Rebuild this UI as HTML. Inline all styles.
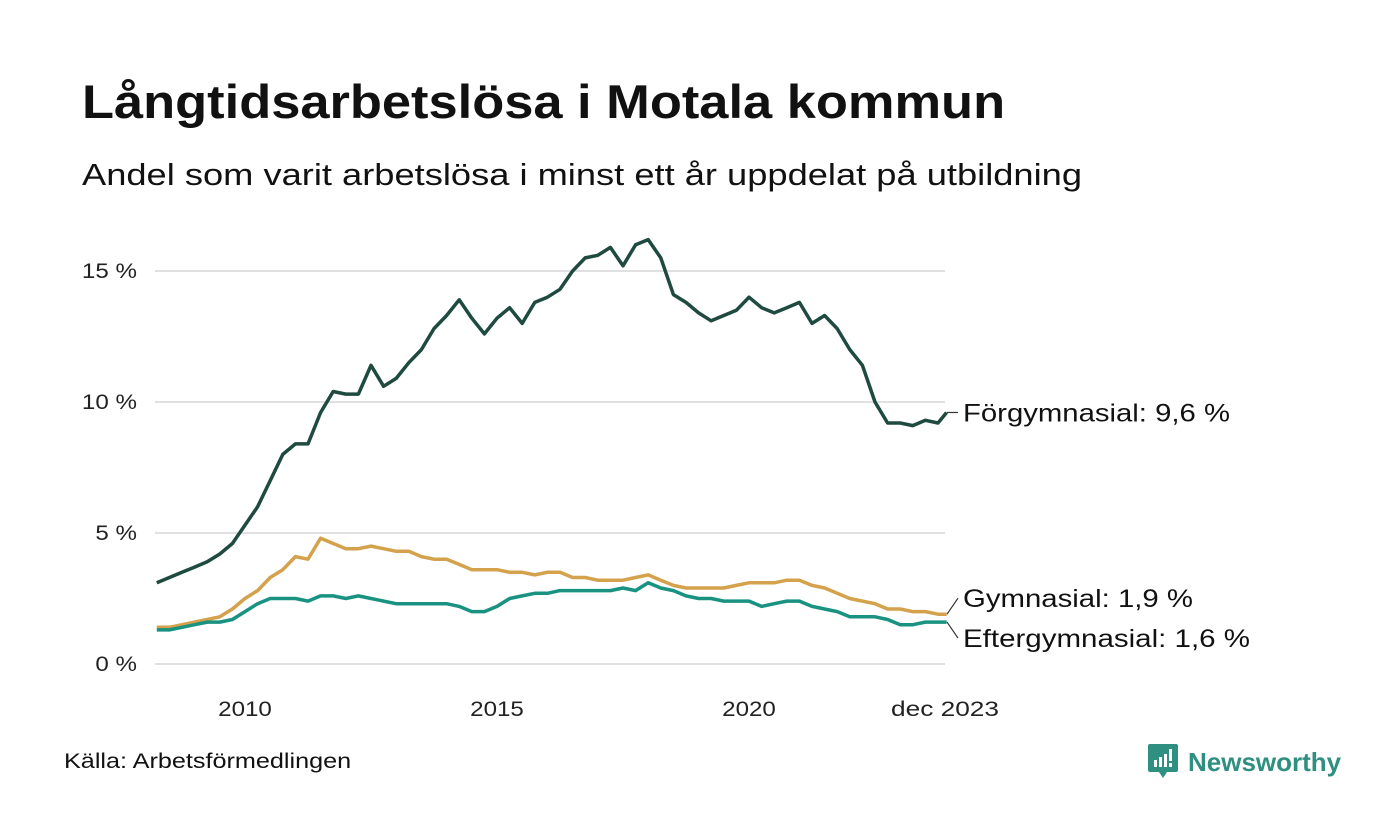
<!DOCTYPE html>
<html><head><meta charset="utf-8">
<style>
body{margin:0;background:#fff;width:1400px;height:840px;overflow:hidden;font-family:"Liberation Sans",sans-serif;color:#111}
.t{position:absolute;left:82px;top:74px;font-size:47px;font-weight:bold;margin:0;transform:scaleX(1.115);transform-origin:left;white-space:nowrap}
.s{position:absolute;left:82px;top:157px;font-size:31px;transform:scaleX(1.17);transform-origin:left;white-space:nowrap}
.src{position:absolute;left:64px;top:750px;font-size:21px;transform:scaleX(1.2);transform-origin:left;white-space:nowrap}
</style></head><body>
<h1 class="t">Långtidsarbetslösa i Motala kommun</h1>
<div class="s">Andel som varit arbetslösa i minst ett år uppdelat på utbildning</div>
<div class="src">Källa: Arbetsförmedlingen</div>
<svg id="c" width="1400" height="840" style="position:absolute;left:0;top:0"></svg>
<script>
const forgym=[3.1,3.3,3.5,3.7,3.9,4.2,4.6,5.3,6.0,7.0,8.0,8.4,8.4,9.6,10.4,10.3,10.3,11.4,10.6,10.9,11.5,12.0,12.8,13.3,13.9,13.2,12.6,13.2,13.6,13.0,13.8,14.0,14.3,15.0,15.5,15.6,15.9,15.2,16.0,16.2,15.5,14.1,13.8,13.4,13.1,13.3,13.5,14.0,13.6,13.4,13.6,13.8,13.0,13.3,12.8,12.0,11.4,10.0,9.2,9.2,9.1,9.3,9.2,9.6];
const gym=[1.4,1.4,1.5,1.6,1.7,1.8,2.1,2.5,2.8,3.3,3.6,4.1,4.0,4.8,4.6,4.4,4.4,4.5,4.4,4.3,4.3,4.1,4.0,4.0,3.8,3.6,3.6,3.6,3.5,3.5,3.4,3.5,3.5,3.3,3.3,3.2,3.2,3.2,3.3,3.4,3.2,3.0,2.9,2.9,2.9,2.9,3.0,3.1,3.1,3.1,3.2,3.2,3.0,2.9,2.7,2.5,2.4,2.3,2.1,2.1,2.0,2.0,1.9,1.9];
const efter=[1.3,1.3,1.4,1.5,1.6,1.6,1.7,2.0,2.3,2.5,2.5,2.5,2.4,2.6,2.6,2.5,2.6,2.5,2.4,2.3,2.3,2.3,2.3,2.3,2.2,2.0,2.0,2.2,2.5,2.6,2.7,2.7,2.8,2.8,2.8,2.8,2.8,2.9,2.8,3.1,2.9,2.8,2.6,2.5,2.5,2.4,2.4,2.4,2.2,2.3,2.4,2.4,2.2,2.1,2.0,1.8,1.8,1.8,1.7,1.5,1.5,1.6,1.6,1.6];
const yTicks=[0,5,10,15];
const xTicks=[2010,2015,2020];
const dates=[];for(let i=0;i<63;i++)dates.push(2008.25+i*0.25);dates.push(2023.92);
const X=d=>245+(d-2010)*50.4, Y=v=>664-v*26.2;
const svg=document.getElementById('c'),NS='http://www.w3.org/2000/svg';
function mk(t,a,txt){const e=document.createElementNS(NS,t);for(const k in a)e.setAttribute(k,a[k]);if(txt!=null)e.textContent=txt;svg.appendChild(e);return e;}
function widen(e,f){const w=e.getComputedTextLength();e.setAttribute('textLength',(w*f).toFixed(1));e.setAttribute('lengthAdjust','spacingAndGlyphs');}
yTicks.forEach(v=>{
 const l=mk('line',{x1:155,x2:945,y1:Y(v),y2:Y(v),stroke:'#e0e0e3','stroke-width':2});
 
 
 const t=mk('text',{x:137,y:Y(v)+7,'text-anchor':'end','font-size':21,fill:'#222','font-family':'Liberation Sans'},v+' %');
 
 
 widen(t,1.15);
});
xTicks.forEach(y=>{
 const t=mk('text',{x:X(y),y:716,'text-anchor':'middle','font-size':21,fill:'#222','font-family':'Liberation Sans'},y);
 
 
 widen(t,1.15);
});
const lt=mk('text',{x:945,y:716,'text-anchor':'middle','font-size':21,fill:'#222','font-family':'Liberation Sans'},'dec 2023');


widen(lt,1.25);
const series=[[gym,'#d4a24c','gymnasial','Gymnasial: 1,9 %',-16,230],[efter,'#1a9282','eftergymnasial','Eftergymnasial: 1,6 %',16,287],[forgym,'#1f4a40','forgymnasial','Förgymnasial: 9,6 %',0,267]];
series.forEach(([vals,col,name,lab,dy,tw])=>{
 const n=Math.min(vals.length,dates.length);
 let d='';for(let i=0;i<n;i++)d+=(i?'L':'M')+X(dates[i]).toFixed(1)+','+Y(vals[i]).toFixed(1);
 const p=mk('path',{d:d,fill:'none',stroke:col,'stroke-width':3.5,'stroke-linejoin':'round'});
 
 
 const ey=Y(vals[n-1]),ly=ey+dy;
 const c=mk('line',{x1:947,y1:ey,x2:958,y2:ly,stroke:'#333','stroke-width':1.2});
 
 
 const t=mk('text',{x:963,y:ly+9,'font-size':25,fill:'#111','font-family':'Liberation Sans',textLength:tw,lengthAdjust:'spacingAndGlyphs'},lab);
 
 
});
</script>
<div style="position:absolute;left:1148px;top:744px;display:flex;align-items:center">
 <svg width="30" height="36" viewBox="0 0 30 36"><path d="M2 0H28Q30 0 30 2V26Q30 28 28 28H19L15 34L11 28H2Q0 28 0 26V2Q0 0 2 0Z" fill="#2f8f80"/><rect x="6" y="16" width="3" height="7" fill="#fff"/><rect x="11" y="13" width="3" height="10" fill="#fff"/><rect x="16" y="10" width="3" height="13" fill="#fff"/><rect x="21" y="5" width="3" height="12" fill="#fff"/><rect x="21" y="19" width="3" height="4" fill="#fff"/></svg>
 <span style="font-size:26px;font-weight:bold;color:#2f8f80;margin-left:10px">Newsworthy</span>
</div>
</body></html>
